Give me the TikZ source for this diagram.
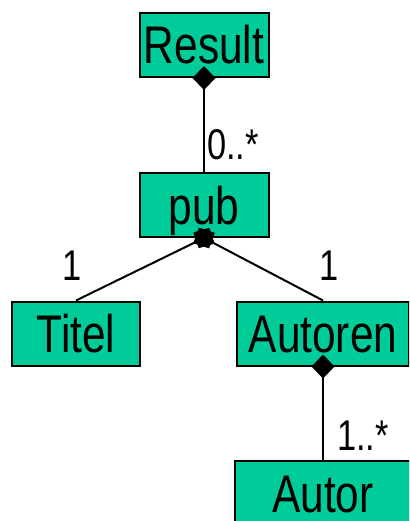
\documentclass[tikz,border=0pt]{standalone}
\usepackage{fontspec}
\setmainfont[FakeStretch=0.8]{Liberation Sans}
\usepackage{tikz}
\usetikzlibrary{arrows.meta}

\definecolor{classgreen}{RGB}{0,204,153}

\begin{document}
\begin{tikzpicture}[x=1pt, y=-1pt,
    cls/.style={draw, line width=2pt, fill=classgreen, inner sep=0pt,
        minimum height=64pt, text height=38pt, text depth=0pt,
        font=\fontsize{53}{60}\selectfont},
    mult/.style={inner sep=0pt, font=\fontsize{43}{50}\selectfont},
    comp/.style={line width=2pt, {Diamond[length=24pt,width=23pt]}-, shorten <=-12pt}
]

    \useasboundingbox (0,0) rectangle (409,521);
    \clip (0,0) rectangle (409,521);

    \node[cls, minimum width=129pt] (result) at (204,45) {Result};
    \node[cls, minimum width=129pt] (pub) at (204,205) {pub};
    \node[cls, minimum width=128pt] (titel) at (76,333.5) {Titel};
    \node[cls, minimum width=172pt] (autoren) at (323,333.5) {Autoren};
    \node[cls, minimum width=176pt] (autor) at (323,493) {Autor};

    \draw[comp] (result.south) -- (pub.north);
    \draw[comp] (pub.south) -- (titel.north);
    \draw[comp] (pub.south) -- (autoren.north);
    \draw[comp] (autoren.south) -- (autor.north);

    \node[mult, anchor=base west] (resultmult) at (207,160) {0..*};
    \node[mult, anchor=base] (titelmult) at (72,280) {1};
    \node[mult, anchor=base] (autorenmult) at (329,280) {1};
    \node[mult, anchor=base west] (autormult) at (337,450) {1..*};

\end{tikzpicture}
\end{document}
